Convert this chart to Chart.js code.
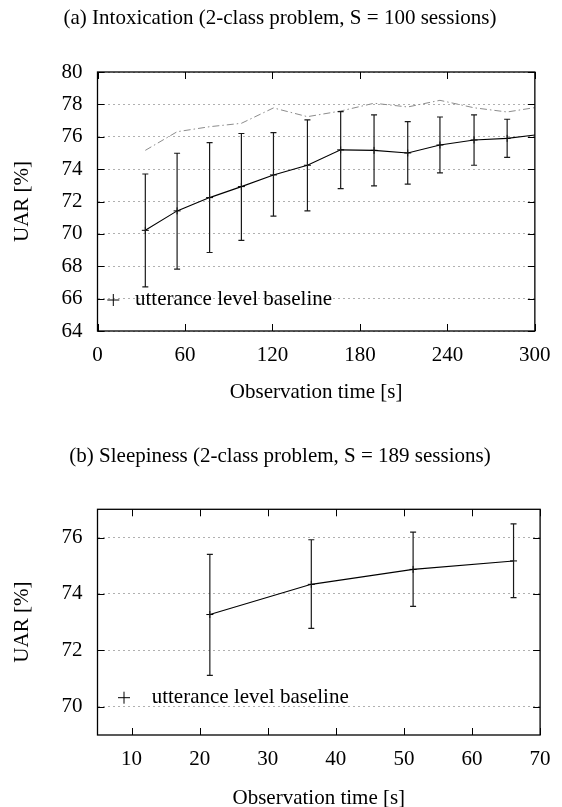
<!DOCTYPE html>
<html>
<head>
<meta charset="utf-8">
<title>UAR vs observation time</title>
<script src="https://cdn.jsdelivr.net/npm/chart.js@4.4.1/dist/chart.umd.min.js"></script>
<style>
  html, body { margin: 0; padding: 0; background: #fff; overflow: hidden; }
  #wrap { position: relative; width: 562px; height: 807px; }
  canvas { position: absolute; left: 0; }
  #chartA { top: 0; }
  #chartB { top: 410px; }
</style>
</head>
<body>
<div id="wrap">
  <canvas id="chartA" width="562" height="410"></canvas>
  <canvas id="chartB" width="562" height="401"></canvas>
</div>
<script>
// texts
const titleA = "(a) Intoxication (2-class problem, S = 100 sessions)";
const titleB = "(b) Sleepiness (2-class problem, S = 189 sessions)";
const yTitle = "UAR [%]";
const xTitle = "Observation time [s]";
const legendLabel = "utterance level baseline";

// (a) intoxication
const timeA = [32.8, 54.6, 76.9, 98.7, 120.7, 144, 166.8, 189.7, 212.8, 234.9, 258.3, 281, 303.5];
const uarA = [70.22, 71.42, 72.24, 72.92, 73.64, 74.24, 75.19, 75.16, 75.0, 75.49, 75.8, 75.9, 76.15];
const uarHighA = [73.7, 74.98, 75.64, 76.2, 76.25, 77.04, 77.55, 77.35, 76.93, 77.22, 77.35, 77.08, 77.3];
const uarLowA = [66.72, 67.82, 68.85, 69.6, 71.1, 71.42, 72.8, 72.96, 73.07, 73.77, 74.24, 74.73, 74.9];
const baselineA = [75.16, 76.31, 76.62, 76.83, 77.78, 77.24, 77.59, 78.07, 77.84, 78.25, 77.79, 77.53, 77.85];
const xTicksA = [0, 60, 120, 180, 240, 300];
const yTicksA = [64, 66, 68, 70, 72, 74, 76, 78, 80];

// (b) sleepiness
const timeB = [21.5, 36.4, 51.35, 66.1];
const uarB = [73.27, 74.34, 74.87, 75.17];
const uarHighB = [75.4, 75.92, 76.19, 76.48];
const uarLowB = [71.11, 72.78, 73.56, 73.87];
const xTicksB = [10, 20, 30, 40, 50, 60, 70];
const yTicksB = [70, 72, 74, 76];

Chart.defaults.font.family = "'Liberation Serif', 'Times New Roman', serif";
Chart.defaults.font.size = 21;
Chart.defaults.color = "#000";

// error bars, frame with inward ticks and the key, drawn in gnuplot style
const gnuPlot = {
    id: "gnuPlot",
    afterDatasetsDraw(chart, args, opts) {
        const { ctx, chartArea: a, scales: { x, y } } = chart;
        const ds = chart.data.datasets[0];
        ctx.save();
        ctx.beginPath();
        ctx.rect(a.left, a.top, a.right - a.left, a.bottom - a.top);
        ctx.clip();
        ctx.strokeStyle = "#1a1a1a";
        ctx.lineWidth = 1.2;
        ds.data.forEach((p, i) => {
            const px = x.getPixelForValue(p.x);
            const hi = y.getPixelForValue(ds.errHigh[i]);
            const lo = y.getPixelForValue(ds.errLow[i]);
            ctx.beginPath();
            ctx.moveTo(px, hi); ctx.lineTo(px, lo);
            ctx.moveTo(px - 3, hi); ctx.lineTo(px + 3, hi);
            ctx.moveTo(px - 3, lo); ctx.lineTo(px + 3, lo);
            ctx.stroke();
        });
        ctx.restore();
    },
    afterDraw(chart, args, opts) {
        const { ctx, chartArea: a, scales: { x, y } } = chart;
        ctx.save();
        ctx.strokeStyle = "#000";
        ctx.lineWidth = 1.3;
        ctx.strokeRect(a.left, a.top, a.right - a.left, a.bottom - a.top);

        // inward tick marks on all four sides
        ctx.lineWidth = 1;
        ctx.beginPath();
        x.ticks.forEach(t => {
            const px = Math.round(x.getPixelForValue(t.value)) + 0.5;
            ctx.moveTo(px, a.bottom); ctx.lineTo(px, a.bottom - 7);
            ctx.moveTo(px, a.top); ctx.lineTo(px, a.top + 7);
        });
        y.ticks.forEach(t => {
            const py = Math.round(y.getPixelForValue(t.value)) + 0.5;
            ctx.moveTo(a.left, py); ctx.lineTo(a.left + 7, py);
            ctx.moveTo(a.right, py); ctx.lineTo(a.right - 7, py);
        });
        ctx.stroke();

        // key
        const cx = a.left + opts.keyX;
        const cy = a.bottom - opts.keyY;
        ctx.beginPath();
        ctx.moveTo(cx - 6, cy); ctx.lineTo(cx + 6, cy);
        ctx.moveTo(cx, cy - 6); ctx.lineTo(cx, cy + 6);
        ctx.stroke();
        ctx.fillStyle = "#000";
        ctx.font = "21px 'Liberation Serif', 'Times New Roman', serif";
        ctx.textBaseline = "alphabetic";
        ctx.textAlign = "left";
        ctx.fillText(legendLabel, a.left + opts.textX, cy + 5);
        ctx.restore();
    }
};

function makePanel(canvasId, p) {
    const datasets = [{
        data: p.time.map((t, i) => ({ x: t, y: p.uar[i] })),
        errHigh: p.high,
        errLow: p.low,
        borderColor: "#000",
        borderWidth: 1.1,
        pointStyle: "cross",
        pointRadius: 3.5,
        pointBorderColor: "#000",
        pointBorderWidth: 1,
        tension: 0
    }];
    if (p.baseline) {
        datasets.push({
            data: p.time.map((t, i) => ({ x: t, y: p.baseline[i] })),
            borderColor: "#8c8c8c",
            borderWidth: 1,
            borderDash: [7, 3, 1.5, 3],
            pointRadius: 0,
            tension: 0
        });
    }

    return new Chart(document.getElementById(canvasId), {
        type: "line",
        data: { datasets: datasets },
        options: {
            responsive: false,
            animation: false,
            devicePixelRatio: 1,
            // left padding keeps the caption centred on the page
            layout: { padding: { left: 18.5, right: 20.5, top: 0, bottom: p.padBottom } },
            plugins: {
                legend: { display: false },
                tooltip: { enabled: false },
                title: {
                    display: true,
                    text: p.title,
                    font: { size: 21, weight: "normal" },
                    color: "#000",
                    padding: { top: p.titleTop, bottom: p.titleBottom }
                },
                gnuPlot: { keyX: p.keyX, keyY: p.keyY, textX: p.textX }
            },
            scales: {
                x: {
                    type: "linear",
                    min: p.xMin,
                    max: p.xMax,
                    afterBuildTicks: s => { s.ticks = p.xTicks.map(v => ({ value: v })); },
                    afterFit: s => { s.height = p.xHeight; },
                    grid: { display: false, drawTicks: false },
                    border: { display: false },
                    ticks: { padding: 11.4, maxRotation: 0, autoSkip: false, font: { size: 21 } },
                    title: { display: true, text: xTitle, font: { size: 21 }, padding: 0 }
                },
                y: {
                    type: "linear",
                    min: p.yMin,
                    max: p.yMax,
                    afterBuildTicks: s => { s.ticks = p.yTicks.map(v => ({ value: v })); },
                    afterFit: s => { s.width = 79; },
                    grid: { color: "#b0b0b0", lineWidth: 1, drawTicks: false },
                    border: { display: false, dash: [2, 3] },
                    ticks: { padding: 15, autoSkip: false, font: { size: 21 } },
                    title: { display: true, text: yTitle, font: { size: 21 }, padding: { top: -9.1, bottom: 0 } }
                }
            }
        },
        plugins: [gnuPlot]
    });
}

makePanel("chartA", {
    title: titleA, time: timeA, uar: uarA, high: uarHighA, low: uarLowA, baseline: baselineA,
    xMin: 0, xMax: 300, yMin: 64, yMax: 80, xTicks: xTicksA, yTicks: yTicksA,
    titleTop: 5.4, titleBottom: 41.4, xHeight: 73.6, padBottom: 5.4,
    keyX: 15.8, keyY: 31, textX: 37.5
});

makePanel("chartB", {
    title: titleB, time: timeB, uar: uarB, high: uarHighB, low: uarLowB, baseline: null,
    xMin: 5, xMax: 70, yMin: 69, yMax: 77, xTicks: xTicksB, yTicks: yTicksB,
    titleTop: 33.4, titleBottom: 40.7, xHeight: 75.6, padBottom: 0.4,
    keyX: 26.5, keyY: 37.3, textX: 54.2
});
</script>
</body>
</html>
